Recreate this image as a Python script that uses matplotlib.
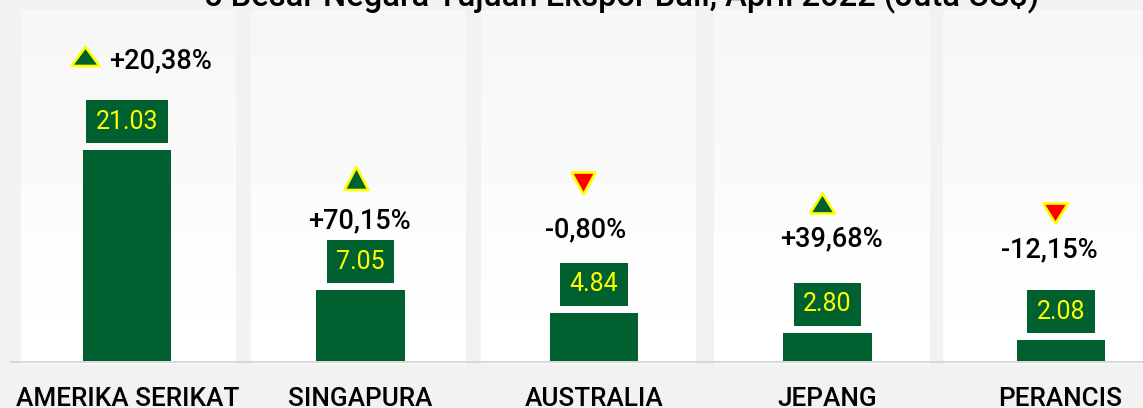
import numpy as np
import matplotlib
matplotlib.use("Agg")
import matplotlib.pyplot as plt

countries = ["AMERIKA SERIKAT", "SINGAPURA", "AUSTRALIA", "JEPANG", "PERANCIS"]
values = [21.03, 7.05, 4.84, 2.80, 2.08]
changes = ["+20,38%", "+70,15%", "-0,80%", "+39,68%", "-12,15%"]
directions = ["up", "up", "down", "up", "down"]
title = "5 Besar Negara Tujuan Ekspor Bali, April 2022 (Juta US$)"

# layout, pixel offsets from each bar top
W, H = 1143, 408
box_dy = [31] * 5
pct_xy = [(33, 92), (-1, 73), (-8.5, 86), (4, 97), (-11.5, 93)]
mark_xy = [(-42, 94), (-4.5, 112), (-11, 130), (-6, 130), (-6, 127)]
mark_wh = [(28, 19), (24, 23), (24, 22), (25, 20), (25, 20)]
label_dx = [1, 0, 0, 0, -1]
panels = [(21, 236), (251, 466), (481, 696), (714, 930), (943, 1143)]

GREEN = "#00602F"
YELLOW = "#FFFF00"
FONT = "Roboto"
plt.rcParams["font.family"] = FONT

fig = plt.figure(figsize=(W / 100, H / 100), dpi=100, facecolor="#F2F2F2")

bg = fig.add_axes([0, 0, 1, 1], zorder=0)
bg.set_xlim(0, W)
bg.set_ylim(H, 0)
bg.axis("off")
grad = np.linspace(0.965, 1.0, 8).reshape(-1, 1)
for x0, x1 in panels:
    bg.imshow(grad, extent=(x0, x1, 364, 10), cmap="gray", vmin=0, vmax=1,
              aspect="auto", interpolation="nearest", zorder=1)
bg.set_xlim(0, W)
bg.set_ylim(H, 0)
bg.plot([10, W], [361.5, 361.5], color="#D9D9D9", lw=1.5, zorder=2, solid_capstyle="butt")
bg.text(622, -5, title, ha="center", va="center", fontsize=23.5, fontweight="medium", color="#000000")

band = 233.5
left = 127 - band / 2
base = 361.0
scale = 10.02  # px per unit
ax = fig.add_axes([left / W, (H - base) / H, (W - left) / W, (base - 0) / H], zorder=1)
ax.patch.set_alpha(0)
ax.set_xlim(-0.5, (W - 127) / band)
ax.set_ylim(0, base / scale)
ax.axis("off")
x = np.arange(len(values))
ax.bar(x, values, width=88.5 / band, color=GREEN, linewidth=0)

for i, v in enumerate(values):
    ax.annotate(f"{v:.2f}", xy=(i, v), xytext=(0, box_dy[i]), textcoords="offset pixels",
                ha="center", va="center_baseline", fontsize=18, color=YELLOW,
                annotation_clip=False, bbox=dict(boxstyle="square,pad=0.38", fc=GREEN, ec="none"))
    ax.annotate(changes[i], xy=(i, v), xytext=pct_xy[i], textcoords="offset pixels",
                ha="center", va="center_baseline", fontsize=19.5, fontweight="medium", color="#000000",
                annotation_clip=False)
    w, h = mark_wh[i]
    sign = 1 if directions[i] == "up" else -1
    verts = [(-w / 2, -sign * h / 2), (w / 2, -sign * h / 2), (0, sign * h / 2), (-w / 2, -sign * h / 2)]
    fc = GREEN if directions[i] == "up" else "#FF0000"
    ox, oy = mark_xy[i]
    t = ax.transData.transform((i, v)) + np.array([ox, oy])
    px, py = ax.transData.inverted().transform(t)
    ax.plot([px], [py], marker=verts, ms=max(w, h) * 0.72, mfc=fc, mec=YELLOW,
            mew=1.9, clip_on=False, ls="none")
    ax.annotate(countries[i], xy=(i, 0), xytext=(label_dx[i], -36), textcoords="offset pixels",
                ha="center", va="center_baseline", fontsize=18.8, fontweight="medium", color="#000000",
                annotation_clip=False)

fig.savefig("out.png", dpi=100, facecolor=fig.get_facecolor())
